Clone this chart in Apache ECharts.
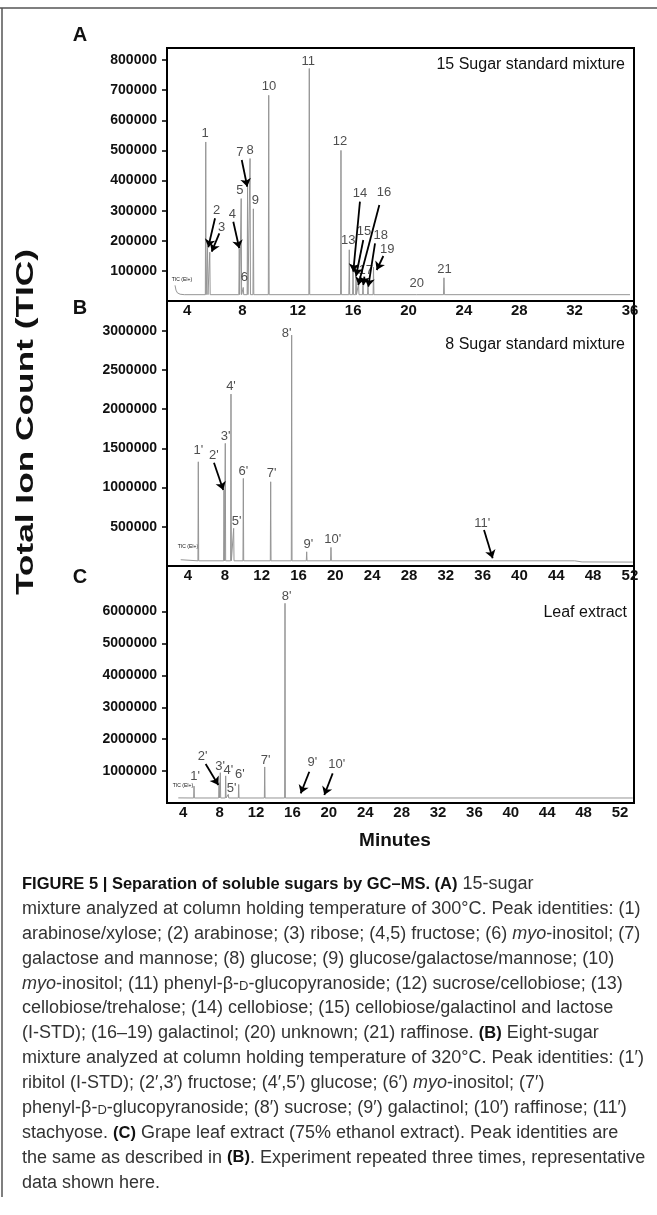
<!DOCTYPE html>
<html>
<head>
<meta charset="utf-8">
<script src="https://cdn.jsdelivr.net/npm/echarts@6/dist/echarts.min.js"></script>
<style>
  html, body { margin: 0; padding: 0; background: #fff; }
  #chart { width: 657px; height: 1215px; }
</style>
</head>
<body>
<div id="chart"></div>
<script>
const FONT = '"Liberation Sans", Arial, sans-serif';

// tick labels
const xTicksA = [4, 8, 12, 16, 20, 24, 28, 32, 36];
const xTicksBC = [4, 8, 12, 16, 20, 24, 28, 32, 36, 40, 44, 48, 52];
const yTicksA = [100000, 200000, 300000, 400000, 500000, 600000, 700000, 800000];
const yTicksB = [500000, 1000000, 1500000, 2000000, 2500000, 3000000];
const yTicksC = [1000000, 2000000, 3000000, 4000000, 5000000, 6000000];

// A - 15 sugar standard mixture (retention time in min, height in counts)
const aTimes = [5.35, 5.48, 5.64, 7.77, 7.91, 8.06, 8.37, 8.55, 8.79, 9.90, 12.83, 15.12, 15.72, 15.99, 16.21, 16.39, 16.71, 17.07, 17.47, 20.59, 22.56];
const aHeights = [528000, 178000, 162000, 173000, 340000, 45000, 378000, 473000, 306000, 683000, 772000, 500000, 170000, 112000, 85000, 58000, 52000, 48000, 112000, 26000, 77000];
const aBase = 21000;
const aStart = [[3.13, 52000], [3.2, 36000], [3.3, 27000], [3.5, 22500], [3.8, 21000]];
const aTail = [[36.0, 21000]];
const aLabels = [
  [5.30, 557800, '1'], [6.14, 302100, '2'], [6.50, 243400, '3'], [7.27, 288800, '4'],
  [7.82, 366200, '5'], [8.14, 78700, '6'], [7.82, 492400, '7'], [8.55, 499000, '8'],
  [8.93, 333000, '9'], [9.92, 711500, '10'], [12.76, 796800, '11'], [15.05, 531200, '12'],
  [15.65, 200200, '13'], [16.49, 357600, '14'], [16.78, 232400, '15'], [18.23, 359600, '16'],
  [16.91, 102900, '17'], [17.99, 219100, '18'], [18.47, 172600, '19'], [20.59, 58800, '20'],
  [22.59, 106200, '21']
];
const aArrows = [
  [6.02, 274600, 5.53, 178300], [6.33, 224800, 5.78, 163700], [7.34, 263300, 7.77, 175000],
  [7.95, 468100, 8.35, 379500], [16.49, 329700, 16.01, 97300], [16.73, 202500, 16.21, 83000],
  [17.89, 318700, 16.37, 53100], [16.81, 80700, 16.73, 53100], [17.58, 191600, 17.09, 47500],
  [18.18, 149400, 17.70, 102900]
];

// B - 8 sugar standard mixture
const bTimes = [5.12, 7.91, 8.05, 8.67, 8.96, 10.01, 12.98, 15.26, 16.89, 19.53, 37.09];
const bHeights = [1329000, 968000, 1564000, 2193000, 480000, 1117000, 1074000, 2945000, 181000, 237000, 85000];
const bBase = 66000;
const bStart = [[3.21, 80000], [3.4, 66000]];
const bTail = [[46.0, 66000], [46.8, 52000], [52.3, 50000]];
const bLabels = [
  [5.12, 1471000, "1'"], [6.82, 1416000, "2'"], [8.09, 1658000, "3'"], [8.67, 2296000, "4'"],
  [9.29, 574000, "5'"], [10.01, 1203000, "6'"], [13.09, 1182000, "7'"], [14.72, 2968000, "8'"],
  [17.07, 281000, "9'"], [19.72, 341000, "10'"], [35.96, 545000, "11'"]
];
const bArrows = [[6.82, 1318000, 7.83, 969000], [36.15, 459000, 37.09, 98000]];

// C - leaf extract
const cTimes = [5.18, 7.93, 8.07, 8.66, 8.95, 10.09, 12.95, 15.18, 16.9, 19.5];
const cHeights = [530000, 640000, 950000, 850000, 270000, 580000, 1130000, 6260000, 200000, 190000];
const cBase = 157000;
const cStart = [[3.45, 160000]];
const cTail = [[53.4, 157000]];
const cLabels = [
  [5.29, 824000, "1'"], [6.13, 1473000, "2'"], [8.04, 1138000, "3'"], [8.95, 1035000, "4'"],
  [9.32, 461000, "5'"], [10.23, 909000, "6'"], [13.06, 1348000, "7'"], [15.37, 6468000, "8'"],
  [18.18, 1263000, "9'"], [20.86, 1213000, "10'"]
];
const cArrows = [[6.46, 1223000, 7.85, 564000], [17.85, 981000, 16.91, 304000], [20.42, 931000, 19.50, 251000]];

const captionLines = [
  '{b|FIGURE 5 | Separation of soluble sugars by GC–MS. (A)} 15-sugar',
  'mixture analyzed at column holding temperature of 300°C. Peak identities: (1)',
  'arabinose/xylose; (2) arabinose; (3) ribose; (4,5) fructose; (6) {i|myo}-inositol; (7)',
  'galactose and mannose; (8) glucose; (9) glucose/galactose/mannose; (10)',
  '{i|myo}-inositol; (11) phenyl-β-{sc|D}-glucopyranoside; (12) sucrose/cellobiose; (13)',
  'cellobiose/trehalose; (14) cellobiose; (15) cellobiose/galactinol and lactose',
  '(I-STD); (16–19) galactinol; (20) unknown; (21) raffinose. {b|(B)} Eight-sugar',
  'mixture analyzed at column holding temperature of 320°C. Peak identities: (1′)',
  'ribitol (I-STD); (2′,3′) fructose; (4′,5′) glucose; (6′) {i|myo}-inositol; (7′)',
  'phenyl-β-{sc|D}-glucopyranoside; (8′) sucrose; (9′) galactinol; (10′) raffinose; (11′)',
  'stachyose. {b|(C)} Grape leaf extract (75% ethanol extract). Peak identities are',
  'the same as described in {b|(B)}. Experiment repeated three times, representative',
  'data shown here.'
];

function trace(times, heights, base, start, tail, half) {
  let pts = start.slice();
  for (let i = 0; i < times.length; i++) {
    pts.push([times[i] - half, base], [times[i], heights[i]], [times[i] + half, base]);
  }
  pts = pts.concat(tail);
  pts.sort(function (p, q) { return p[0] - q[0]; });
  return pts;
}

function traceSeries(idx, data) {
  return {
    type: 'line', xAxisIndex: idx, yAxisIndex: idx, data: data,
    showSymbol: false, silent: true,
    lineStyle: { color: '#959595', width: 1 }
  };
}

function labelSeries(idx, labels) {
  return {
    type: 'scatter', xAxisIndex: idx, yAxisIndex: idx, data: labels,
    symbolSize: 1, itemStyle: { color: 'rgba(0,0,0,0)' }, silent: true, z: 5,
    label: {
      show: true, position: 'inside', color: '#222', fontSize: 13, fontFamily: FONT,
      formatter: function (p) { return p.data[2]; }
    }
  };
}

function arrowSeries(idx, arrows) {
  return {
    type: 'lines', coordinateSystem: 'cartesian2d', xAxisIndex: idx, yAxisIndex: idx,
    symbol: ['none', 'arrow'], symbolSize: 8, silent: true, z: 6,
    itemStyle: { color: '#000' },
    lineStyle: { color: '#000', width: 1.8, opacity: 1 },
    data: arrows.map(function (a) { return { coords: [[a[0], a[1]], [a[2], a[3]]] }; })
  };
}

function xAxis(idx, min, max, ticks) {
  return {
    type: 'value', gridIndex: idx, min: min, max: max,
    axisLine: { show: true, lineStyle: { color: '#000', width: 2 } },
    axisTick: { show: false },
    splitLine: { show: false },
    axisLabel: {
      customValues: ticks, color: '#111', fontWeight: 'bold', fontSize: 15,
      fontFamily: FONT, margin: 2
    }
  };
}

function yAxis(idx, max, ticks) {
  return {
    type: 'value', gridIndex: idx, min: 0, max: max,
    axisLine: { show: true, lineStyle: { color: '#000', width: 2 } },
    axisTick: { show: true, customValues: ticks, length: 5, lineStyle: { color: '#000', width: 1.5 } },
    splitLine: { show: false },
    axisLabel: {
      customValues: ticks, color: '#111', fontWeight: 'bold', fontSize: 14,
      fontFamily: FONT, margin: 10,
      formatter: function (v) { return String(v); }
    }
  };
}

function grid(top, height) {
  return {
    left: 167, top: top, width: 467, height: height,
    show: true, borderColor: '#000', borderWidth: 2,
    outerBoundsMode: 'none', containLabel: false
  };
}

function text(x, y, str, size, weight, align) {
  return {
    type: 'text', x: x, y: y, silent: true,
    style: {
      text: str, fontSize: size, fontWeight: weight || 'normal', fontFamily: FONT,
      fill: '#111', align: align || 'center', verticalAlign: 'middle'
    }
  };
}

const graphics = [
  { type: 'line', silent: true, shape: { x1: 0, y1: 8, x2: 657, y2: 8 }, style: { stroke: '#555', lineWidth: 1.5 } },
  { type: 'line', silent: true, shape: { x1: 2, y1: 8, x2: 2, y2: 1197 }, style: { stroke: '#555', lineWidth: 1.5 } },
  text(80, 35, 'A', 20, 'bold'),
  text(80, 308, 'B', 20, 'bold'),
  text(80, 577, 'C', 20, 'bold'),
  text(625, 65, '15 Sugar standard mixture', 16, 'normal', 'right'),
  text(625, 345, '8 Sugar standard mixture', 16, 'normal', 'right'),
  text(627, 613, 'Leaf extract', 16, 'normal', 'right'),
  text(182, 280, 'TIC (EI+)', 5),
  text(188, 547, 'TIC (EI+)', 5),
  text(183, 786, 'TIC (EI+)', 5),
  text(395, 841, 'Minutes', 19, 'bold'),
  {
    type: 'text', x: 26, y: 422, rotation: Math.PI / 2, scaleX: 1.47, silent: true,
    style: {
      text: 'Total Ion Count (TIC)', fontSize: 24, fontWeight: 'bold', fontFamily: FONT,
      fill: '#111', align: 'center', verticalAlign: 'middle'
    }
  }
];

captionLines.forEach(function (line, i) {
  graphics.push({
    type: 'text', x: 22, y: 884 + i * 24.9, silent: true,
    style: {
      text: line, fontSize: 18, fontFamily: FONT, fill: '#333',
      align: 'left', verticalAlign: 'middle',
      rich: {
        b: { fontSize: 16.5, fontFamily: FONT, fontWeight: 'bold', fill: '#111' },
        i: { fontSize: 18, fontFamily: FONT, fontStyle: 'italic', fill: '#333' },
        sc: { fontSize: 13, fontFamily: FONT, fill: '#333', verticalAlign: 'bottom' }
      }
    }
  });
});

const myChart = echarts.init(document.getElementById('chart'), null, { renderer: 'canvas' });

const option = {
  animation: false,
  backgroundColor: '#fff',
  grid: [grid(48, 253), grid(301, 265), grid(566, 237)],
  xAxis: [
    xAxis(0, 2.55, 36.29, xTicksA),
    xAxis(1, 1.72, 52.44, xTicksBC),
    xAxis(2, 2.21, 53.54, xTicksBC)
  ],
  yAxis: [
    yAxis(0, 840000, yTicksA),
    yAxis(1, 3380000, yTicksB),
    yAxis(2, 7430000, yTicksC)
  ],
  series: [
    traceSeries(0, trace(aTimes, aHeights, aBase, aStart, aTail, 0.03)),
    traceSeries(1, trace(bTimes, bHeights, bBase, bStart, bTail, 0.04)),
    traceSeries(2, trace(cTimes, cHeights, cBase, cStart, cTail, 0.04)),
    arrowSeries(0, aArrows),
    arrowSeries(1, bArrows),
    arrowSeries(2, cArrows),
    labelSeries(0, aLabels),
    labelSeries(1, bLabels),
    labelSeries(2, cLabels)
  ],
  graphic: graphics
};

myChart.setOption(option);
</script>
</body>
</html>
